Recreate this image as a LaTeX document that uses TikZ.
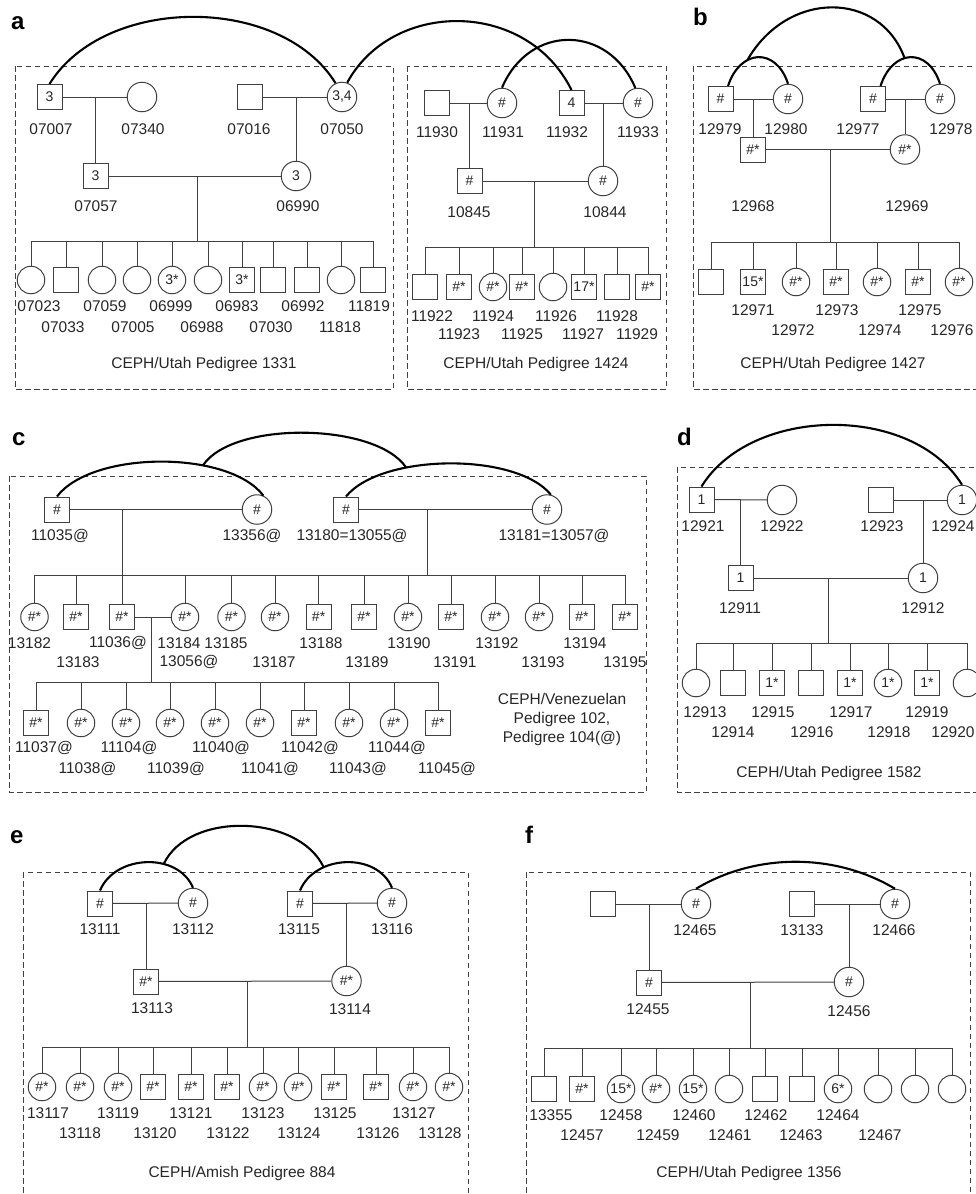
\documentclass[tikz,border=0pt]{standalone}
\usepackage{fontspec}
\setmainfont{Liberation Sans}
\newcommand\pinf{\fontsize{14}{16}\selectfont}
\newcommand\plab{\fontsize{15.5}{19}\selectfont}
\newcommand\ptag{\fontsize{24}{28}\selectfont\bfseries}
\newcommand\kidrow[3]{%
  \foreach \n/\s/\x/\t/\lt/\lx/\ly in {#3} {%
    \node[\s] (n\n) at (\x,#1) {\t};
    \node[lbl] (l\n) at (\lx,\ly) {\lt};
    \draw[ped] (n\n.north) -- (n\n.north |- #2);
  }}
\begin{document}
\begin{tikzpicture}[x=1pt,y=-1pt,
 ped/.style={draw=black!75,line width=1pt},
 arcl/.style={draw=black,line width=2.1pt},
 msq/.style={draw=black!75,line width=1pt,rectangle,minimum size=25pt,inner sep=0pt,font=\pinf,text=black!85},
 fci/.style={draw=black!75,line width=1pt,circle,minimum size=29.5pt,inner sep=0pt,font=\pinf,text=black!85},
 kci/.style={fci,minimum size=27.5pt},
 lbl/.style={inner sep=0pt,font=\plab,text=black!85},
 dbox/.style={draw=black!75,line width=0.9pt,dash pattern=on 5.5pt off 3.5pt},
 tag/.style={font=\ptag,anchor=base west,inner sep=0pt}]
\useasboundingbox (0,0) rectangle (976,1194);
\clip (0,0) rectangle (976,1194);

% ---------------- boxes
\draw[dbox] (15,66) rectangle (393,389);
\draw[dbox] (407,66) rectangle (666,389);
\draw[dbox] (693,66) rectangle (1000,389);
\draw[dbox] (9,476) rectangle (646,792);
\draw[dbox] (677,467) rectangle (1000,792);
\draw[dbox] (23,872) rectangle (468,1215);
\draw[dbox] (526,872) rectangle (970,1215);

% ---------------- tags
\node[tag] (ta) at (11,29) {a};
\node[tag] (tb) at (693,25) {b};
\node[tag] (tc) at (12,445) {c};
\node[tag] (td) at (677,445) {d};
\node[tag] (te) at (10,843) {e};
\node[tag] (tf) at (525,843) {f};

% ================= panel a (1331)
\node[msq] (n07007) at (49.5,97) {3};
\node[fci] (n07340) at (142,97) {};
\node[msq] (n07016) at (249.5,97) {};
\node[fci] (n07050) at (342,97) {3,4};
\node[msq] (n07057) at (95.5,176) {3};
\node[fci] (n06990) at (296,176) {3};
\node[lbl] (l07007) at (51,129) {07007};
\node[lbl] (l07340) at (143,129) {07340};
\node[lbl] (l07016) at (249,129) {07016};
\node[lbl] (l07050) at (342,129) {07050};
\node[lbl] (l07057) at (96,206) {07057};
\node[lbl] (l06990) at (298,206) {06990};
\draw[ped] (n07007) -- (n07340);
\draw[ped] (n07016) -- (n07050);
\draw[ped] (n07057.north) -- (n07057.north |- n07007.center);
\draw[ped] (n06990.north) -- (n06990.north |- n07050.center);
\draw[ped] (n07057) -- (n06990);
\coordinate (sa) at (197,241);
\draw[ped] (sa) -- (sa |- n07057.center);
\kidrow{280}{sa}{07023/kci/31/{}/07023/39/306,
07033/msq/66/{}/07033/63/327,
07059/kci/102/{}/07059/105/306,
07005/kci/137/{}/07005/133/327,
06999/kci/172/3*/06999/171/306,
06988/kci/208/{}/06988/202/327,
06983/msq/242/3*/06983/237/306,
07030/msq/273/{}/07030/271/327,
06992/msq/307/{}/06992/303/306,
11818/kci/341/{}/11818/340/327,
11819/msq/373/{}/11819/369/306}
\draw[ped] (n07023.north |- sa) -- (n11819.north |- sa);
\node[lbl] (c1331) at (204,364) {CEPH/Utah Pedigree 1331};

% ================= panel a (1424)
\node[msq] (n11930) at (437,103) {};
\node[fci] (n11931) at (502,103) {\#};
\node[msq] (n11932) at (571.5,103) {4};
\node[fci] (n11933) at (638,103) {\#};
\node[msq] (n10845) at (469.5,181) {\#};
\node[fci] (n10844) at (603,181) {\#};
\node[lbl] (l11930) at (437,132) {11930};
\node[lbl] (l11931) at (503,132) {11931};
\node[lbl] (l11932) at (567,132) {11932};
\node[lbl] (l11933) at (638,132) {11933};
\node[lbl] (l10845) at (469,212) {10845};
\node[lbl] (l10844) at (605,212) {10844};
\draw[ped] (n11930) -- (n11931);
\draw[ped] (n11932) -- (n11933);
\draw[ped] (n10845.north) -- (n10845.north |- n11930.center);
\draw[ped] (n10844.north) -- (n10844.north |- n11933.center);
\draw[ped] (n10845) -- (n10844);
\coordinate (sar) at (534,247);
\draw[ped] (sar) -- (sar |- n10845.center);
\kidrow{287}{sar}{11922/msq/425/{}/11922/432/316,
11923/msq/459/\#*/11923/459/334,
11924/kci/493/\#*/11924/493/316,
11925/msq/522/\#*/11925/522/334,
11926/kci/553/{}/11926/556/316,
11927/msq/584/17*/11927/583/334,
11928/msq/617/{}/11928/617/316,
11929/msq/648/\#*/11929/637/334}
\draw[ped] (n11922.north |- sar) -- (n11929.north |- sar);
\node[lbl] (c1424) at (536,364) {CEPH/Utah Pedigree 1424};

% arcs panel a
\draw[arcl] (n07007.north) .. controls +(55,-89) and +(-55,-89) .. (n07050.115);
\draw[arcl] (n07050.70) .. controls +(45,-83) and +(-45,-91) .. (n11932.north);
\draw[arcl] (n11931.north) .. controls +(27,-64) and +(-27,-64) .. (n11933.100);

% ================= panel b (1427)
\node[msq] (n12979) at (720.5,99) {\#};
\node[fci] (n12980) at (788,99) {\#};
\node[msq] (n12977) at (873,99) {\#};
\node[fci] (n12978) at (940,99) {\#};
\node[msq] (n12968) at (753,149.5) {\#*};
\node[fci] (n12969) at (905,149.5) {\#*};
\node[lbl] (l12979) at (720,129) {12979};
\node[lbl] (l12980) at (786,129) {12980};
\node[lbl] (l12977) at (858,129) {12977};
\node[lbl] (l12978) at (951,129) {12978};
\node[lbl] (l12968) at (753,206) {12968};
\node[lbl] (l12969) at (907,206) {12969};
\draw[ped] (n12979) -- (n12980);
\draw[ped] (n12977) -- (n12978);
\draw[ped] (n12968.north) -- (n12968.north |- n12979.center);
\draw[ped] (n12969.north) -- (n12969.north |- n12977.center);
\draw[ped] (n12968) -- (n12969);
\coordinate (sb) at (830,242);
\draw[ped] (sb) -- (sb |- n12968.center);
\node[msq] (nb0) at (711,282) {};
\draw[ped] (nb0.north) -- (nb0.north |- sb);
\kidrow{282}{sb}{12971/msq/753/15*/12971/753/310,
12972/kci/796/\#*/12972/793/330,
12973/msq/836/\#*/12973/837/310,
12974/kci/877/\#*/12974/880/330,
12975/msq/918/\#*/12975/920/310,
12976/kci/959/\#*/12976/952/330}
\draw[ped] (nb0.north |- sb) -- (n12976.north |- sb);
\node[lbl] (c1427) at (833,364) {CEPH/Utah Pedigree 1427};
\draw[arcl] (n12979.60) .. controls +(12,-37) and +(-12,-37) .. coordinate[pos=0.35] (bA) (n12980.north);
\draw[arcl] (n12977.60) .. controls +(12,-37) and +(-12,-37) .. coordinate[pos=0.42] (bB) (n12978.north);
\draw[arcl] (bA) .. controls +(40,-70) and +(-25,-68) .. (bB);

% ================= panel c (Venezuelan)
\node[msq] (n11035) at (57,509.5) {\#};
\node[fci] (n13356) at (257,509.5) {\#};
\node[msq] (n13180) at (346,509.5) {\#};
\node[fci] (n13181) at (547,509.5) {\#};
\node[lbl] (l11035) at (60,536) {11035@};
\node[lbl] (l13356) at (252,536) {13356@};
\node[lbl] (l13180) at (352,536) {13180=13055@};
\node[lbl] (l13181) at (554,536) {13181=13057@};
\draw[ped] (n11035) -- (n13356);
\draw[ped] (n13180) -- (n13181);
\coordinate (scl) at (122,575);
\coordinate (scr) at (427,575);
\draw[ped] (scl) -- (scl |- n11035.center);
\draw[ped] (scr) -- (scr |- n13180.center);
\kidrow{617}{scl}{13182/kci/34.5/\#*/13182/29.5/643,
13183/msq/76/\#*/13183/78/662,
11036/msq/122/\#*/11036@/118/643,
13184/kci/185/\#*/13184/179/643,
13185/kci/231.5/\#*/13185/226/643,
13187/kci/275/\#*/13187/274/662,
13188/msq/318.6/\#*/13188/321/643,
13189/msq/364/\#*/13189/367/662,
13190/kci/408/\#*/13190/409/643,
13191/msq/451/\#*/13191/455/662,
13192/kci/495/\#*/13192/497/643,
13193/kci/539/\#*/13193/543/662,
13194/msq/582/\#*/13194/585/643,
13195/msq/625/\#*/13195/625/662}
\draw[ped] (n13182.north |- scl) -- (n13195.north |- scl);
\node[lbl] (l13056) at (189,662) {13056@};
\draw[ped] (n11036) -- (n13184);
\coordinate (sc3) at (151,682);
\draw[ped] (sc3) -- (sc3 |- n11036.center);
\kidrow{723}{sc3}{11037/msq/36/\#*/11037@/44/748,
11038/kci/81/\#*/11038@/87.5/769,
11104/kci/126/\#*/11104@/129/748,
11039/kci/170/\#*/11039@/176/769,
11040/kci/215/\#*/11040@/221/748,
11041/kci/260/\#*/11041@/270/769,
11042/msq/304/\#*/11042@/310/748,
11043/kci/349/\#*/11043@/358/769,
11044/kci/394/\#*/11044@/397/748,
11045/msq/438/\#*/11045@/447/769}
\draw[ped] (n11037.north |- sc3) -- (n11045.north |- sc3);
\node[lbl,align=center] (cven) at (562,719) {CEPH/Venezuelan\\Pedigree 102,\\Pedigree 104(@)};
\draw[arcl] (n11035.north) .. controls +(35,-46) and +(-35,-46) .. coordinate[pos=0.67] (cA) (n13356.65);
\draw[arcl] (n13180.north) .. controls +(35,-43) and +(-35,-43) .. coordinate[pos=0.33] (cB) (n13181.75);
\draw[arcl] (cA) .. controls +(30,-45) and +(-30,-45) .. (cB);

% ================= panel d (1582)
\node[msq] (n12921) at (701.5,499.5) {1};
\node[fci] (n12922) at (782,500) {};
\node[msq] (n12923) at (880.5,500) {};
\node[fci] (n12924) at (962,500) {1};
\node[lbl] (l12921) at (703,526) {12921};
\node[lbl] (l12922) at (782,526) {12922};
\node[lbl] (l12923) at (882,526) {12923};
\node[lbl] (l12924) at (953,526) {12924};
\node[msq] (n12911) at (740.5,578) {1};
\node[fci] (n12912) at (923,578) {1};
\node[lbl] (l12911) at (740,608) {12911};
\node[lbl] (l12912) at (923,608) {12912};
\draw[ped] (n12921) -- (n12922);
\draw[ped] (n12923) -- (n12924);
\draw[ped] (n12911.north) -- (n12911.north |- n12921.center);
\draw[ped] (n12912.north) -- (n12912.north |- n12923.center);
\draw[ped] (n12911) -- (n12912);
\coordinate (sd) at (828,643);
\draw[ped] (sd) -- (sd |- n12911.center);
\kidrow{683}{sd}{12913/kci/696/{}/12913/705/712,
12914/msq/733/{}/12914/733/732,
12915/msq/772/1*/12915/773/712,
12916/msq/811/{}/12916/812/732,
12917/msq/850/1*/12917/851/712,
12918/kci/888/1*/12918/889/732,
12919/msq/927/1*/12919/927/712,
12920/kci/967/{}/12920/953/732}
\draw[ped] (n12913.north |- sd) -- (n12920.north |- sd);
\node[lbl] (c1582) at (829,773) {CEPH/Utah Pedigree 1582};
\draw[arcl] (n12921.north) .. controls +(50,-81) and +(-50,-81) .. (n12924.north);

% ================= panel e (Amish 884)
\node[msq] (n13111) at (100,903.5) {\#};
\node[fci] (n13112) at (193,903) {\#};
\node[msq] (n13115) at (300,903.5) {\#};
\node[fci] (n13116) at (392,903) {\#};
\node[lbl] (l13111) at (100,929) {13111};
\node[lbl] (l13112) at (193,929) {13112};
\node[lbl] (l13115) at (299,929) {13115};
\node[lbl] (l13116) at (392,929) {13116};
\node[msq] (n13113) at (146,981.5) {\#*};
\node[fci] (n13114) at (346.5,981) {\#*};
\node[lbl] (l13113) at (152,1008) {13113};
\node[lbl] (l13114) at (350,1009) {13114};
\draw[ped] (n13111) -- (n13112);
\draw[ped] (n13115) -- (n13116);
\draw[ped] (n13113.north) -- (n13113.north |- n13111.center);
\draw[ped] (n13114.north) -- (n13114.north |- n13115.center);
\draw[ped] (n13113) -- (n13114);
\coordinate (se) at (247,1047);
\draw[ped] (se) -- (se |- n13113.center);
\kidrow{1087}{se}{13117/kci/42/\#*/13117/48/1113,
13118/kci/80/\#*/13118/80/1133,
13119/kci/118/\#*/13119/118/1113,
13120/msq/153/\#*/13120/155/1133,
13121/msq/191/\#*/13121/191/1113,
13122/msq/227/\#*/13122/228/1133,
13123/kci/263/\#*/13123/263/1113,
13124/kci/298/\#*/13124/299/1133,
13125/msq/334/\#*/13125/335/1113,
13126/msq/376/\#*/13126/378/1133,
13127/kci/413/\#*/13127/414/1113,
13128/kci/449/\#*/13128/440/1133}
\draw[ped] (n13117.north |- se) -- (n13128.north |- se);
\node[lbl] (c884) at (242,1173) {CEPH/Amish Pedigree 884};
\draw[arcl] (n13111.north) .. controls +(15,-36) and +(-15,-36) .. coordinate[pos=0.65] (eA) (n13112.north);
\draw[arcl] (n13115.north) .. controls +(15,-36) and +(-15,-36) .. coordinate[pos=0.3] (eB) (n13116.north);
\draw[arcl] (eA) .. controls +(25,-53) and +(-25,-53) .. (eB);

% ================= panel f (1356)
\node[msq] (nf0) at (603,904) {};
\node[fci] (n12465) at (696,904) {\#};
\node[msq] (n13133) at (802,904) {};
\node[fci] (n12466) at (895,904) {\#};
\node[lbl] (l12465) at (695,930) {12465};
\node[lbl] (l13133) at (802,930) {13133};
\node[lbl] (l12466) at (894,930) {12466};
\node[msq] (n12455) at (649,982.5) {\#};
\node[fci] (n12456) at (849,982) {\#};
\node[lbl] (l12455) at (648,1009) {12455};
\node[lbl] (l12456) at (849,1011) {12456};
\draw[ped] (nf0) -- (n12465);
\draw[ped] (n13133) -- (n12466);
\draw[ped] (n12455.north) -- (n12455.north |- nf0.center);
\draw[ped] (n12456.north) -- (n12456.north |- n13133.center);
\draw[ped] (n12455) -- (n12456);
\coordinate (sf) at (750,1048);
\draw[ped] (sf) -- (sf |- n12455.center);
\kidrow{1089}{sf}{13355/msq/544/{}/13355/551/1115,
12457/msq/582/\#*/12457/582/1135,
12458/kci/621/15*/12458/621/1115,
12459/kci/656/\#*/12459/658/1135,
12460/kci/693/15*/12460/694/1115,
12461/kci/729/{}/12461/730/1135,
12462/msq/765/{}/12462/766/1115,
12463/msq/802/{}/12463/801/1135,
12464/kci/838/6*/12464/838/1115,
12467/kci/878/{}/12467/880/1135}
\node[kci] (nf10) at (915,1089) {};
\node[kci] (nf11) at (952,1089) {};
\draw[ped] (nf10.north) -- (nf10.north |- sf);
\draw[ped] (nf11.north) -- (nf11.north |- sf);
\draw[ped] (n13355.north |- sf) -- (nf11.north |- sf);
\node[lbl] (c1356) at (749,1173) {CEPH/Utah Pedigree 1356};
\draw[arcl] (n12465.north) .. controls +(60,-36) and +(-60,-36) .. (n12466.north);
\end{tikzpicture}
\end{document}
